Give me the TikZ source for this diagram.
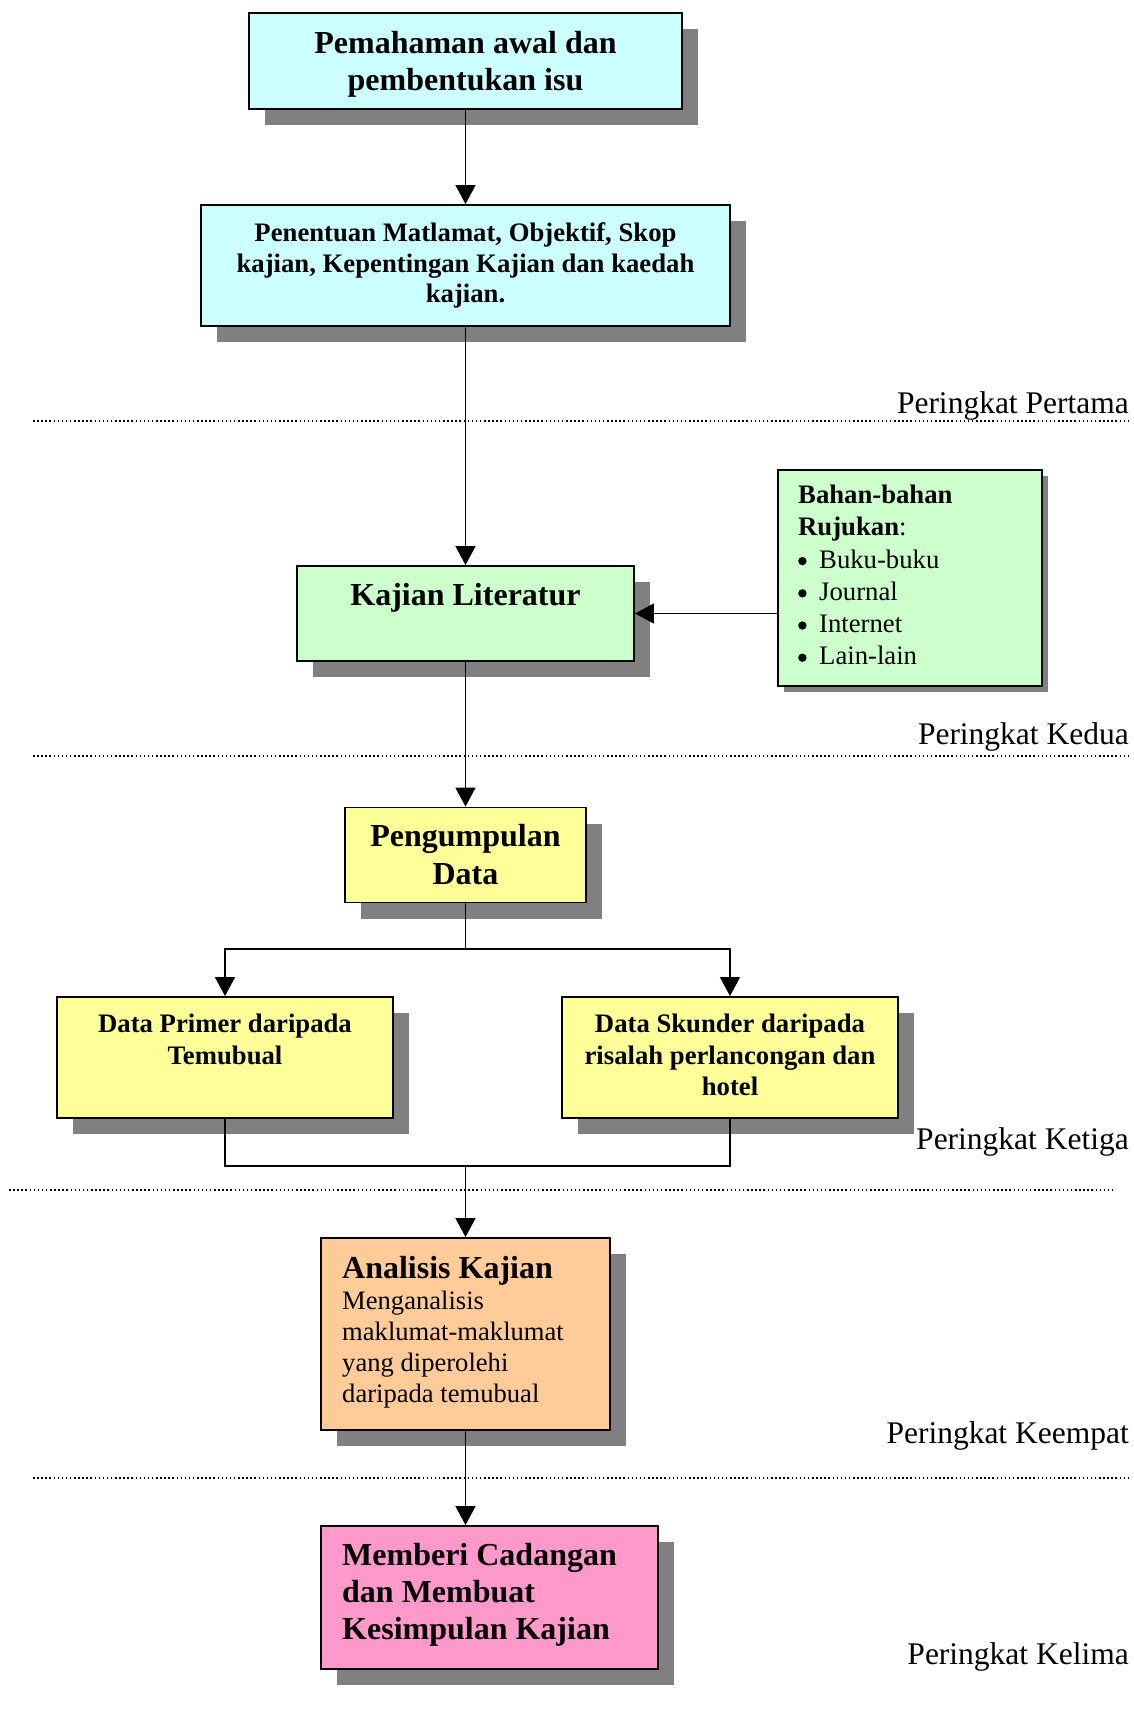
\documentclass[tikz,border=0pt]{standalone}
\usepackage{fontspec}
\setmainfont{Liberation Serif}
\usetikzlibrary{shadows,arrows.meta}

\definecolor{cyanbox}{HTML}{CCFFFF}
\definecolor{greenbox}{HTML}{CCFFCC}
\definecolor{yellowbox}{HTML}{FFFF99}
\definecolor{orangebox}{HTML}{FFCC99}
\definecolor{pinkbox}{HTML}{FF99CC}
\definecolor{shadowgray}{HTML}{808080}

\tikzset{
  stagebox/.style={draw=black, line width=1.9pt, rectangle, inner sep=0pt,
    drop shadow={shadow xshift=16pt, shadow yshift=-16pt, fill=shadowgray, opacity=1}},
  notebox/.style={draw=black, line width=1.9pt, rectangle, inner sep=0pt,
    drop shadow={shadow xshift=6pt, shadow yshift=-6pt, fill=shadowgray, opacity=1}},
  boxtext/.style={inner sep=0pt, font=\bfseries\fontsize{26.7}{31.5}\selectfont},
  flow/.style={line width=1.6pt, -{Triangle[length=19pt,width=20pt]}},
  plain/.style={line width=1.6pt},
  levelline/.style={line width=1.5pt, dash pattern=on 1.5pt off 2.6pt},
  levellabel/.style={anchor=east, inner sep=0pt, font=\fontsize{31.5}{36}\selectfont}
}
% list bullet: a filled dot centred on the x-height
\newcommand{\bigdot}{\makebox[21pt][l]{\tikz[baseline=0pt]\fill[black] (5pt,7pt) circle[radius=4.2pt];}}

\begin{document}
\begin{tikzpicture}[x=1pt,y=-1pt]
\useasboundingbox (0,0) rectangle (1134,1713);

% ---- stage 1 ----
\node[stagebox, fill=cyanbox, minimum width=433pt, minimum height=96pt] (isu) at (465.5,61) {};
\node[inner sep=0pt, align=center, font=\bfseries\fontsize{32}{37}\selectfont] (isutext) at (465.5,64)
  {Pemahaman awal dan\\pembentukan isu};
\node[stagebox, fill=cyanbox, minimum width=529pt, minimum height=121pt,
      align=center, font=\bfseries\fontsize{26.7}{30.5}\selectfont] (tujuan) at (465.5,265.5)
  {Penentuan Matlamat, Objektif, Skop\\kajian, Kepentingan Kajian dan kaedah\\kajian.};

% ---- stage 2 ----
\node[stagebox, fill=greenbox, minimum width=337pt, minimum height=95pt] (lit) at (465.5,613.5) {};
\node[inner sep=0pt, font=\bfseries\fontsize{32}{37}\selectfont] (littext) at (465.5,598) {Kajian Literatur};

\node[notebox, fill=greenbox, minimum width=264pt, minimum height=216pt] (bahan) at (910,578) {};
\node[inner sep=0pt, anchor=north west, align=left, font=\fontsize{26.7}{32.2}\selectfont] (bahantext) at (798,485)
  {\textbf{Bahan-bahan}\\
   \textbf{Rujukan}:\\
   \bigdot Buku-buku\\
   \bigdot Journal\\
   \bigdot Internet\\
   \bigdot Lain-lain};

% ---- stage 3 ----
\node[stagebox, fill=yellowbox, minimum width=241pt, minimum height=95pt,
      align=center, font=\bfseries\fontsize{32}{38}\selectfont] (kumpul) at (465.5,855)
  {Pengumpulan\\Data};

\node[stagebox, fill=yellowbox, minimum width=336pt, minimum height=121pt] (primer) at (225,1057.5) {};
\node[boxtext, align=center, anchor=north] (primertext) at (225,1014)
  {Data Primer daripada\\Temubual};
\node[stagebox, fill=yellowbox, minimum width=336pt, minimum height=121pt] (skunder) at (730,1057.5) {};
\node[boxtext, align=center, anchor=north] (skundertext) at (730,1014)
  {Data Skunder daripada\\risalah perlancongan dan\\hotel};

% ---- stage 4 ----
\node[stagebox, fill=orangebox, minimum width=289pt, minimum height=192pt] (analisis) at (465.5,1334) {};
\node[inner sep=0pt, anchor=north west, align=left, font=\fontsize{26.6}{31}\selectfont] (analisistext) at (342,1256)
  {{\bfseries\fontsize{32}{33}\selectfont Analisis Kajian}\\
   Menganalisis\\maklumat-maklumat\\yang diperolehi\\daripada temubual};

% ---- stage 5 ----
\node[stagebox, fill=pinkbox, minimum width=337pt, minimum height=143pt] (cadangan) at (489.5,1597.5) {};
\node[inner sep=0pt, anchor=north west, align=left, font=\bfseries\fontsize{32}{37}\selectfont] (cadangantext) at (342,1543)
  {Memberi Cadangan\\dan Membuat\\Kesimpulan Kajian};

% ---- connectors ----
\draw[flow] (isu.south) -- (tujuan.north);
\draw[flow] (tujuan.south) -- (lit.north);
\draw[flow] (bahan.west |- lit.east) -- (lit.east);
\draw[flow] (lit.south) -- (kumpul.north);

\coordinate (split) at (465.5,949);
\draw[plain] (kumpul.south) -- (split);
\draw[flow] (split) -| (primer.north);
\draw[flow] (split) -| (skunder.north);

\coordinate (join) at (465.5,1166);
\draw[plain] (primer.south) |- (join);
\draw[plain] (skunder.south) |- (join);
\draw[flow] (join) -- (analisis.north);
\draw[flow] (analisis.south) -- (analisis.south |- cadangan.north);

% ---- level dividers ----
\coordinate (d1a) at (33,421);   \coordinate (d1b) at (1131,421);
\coordinate (d2a) at (33,756);   \coordinate (d2b) at (1131,756);
\coordinate (d3a) at (9,1190);   \coordinate (d3b) at (1112,1190);
\coordinate (d4a) at (33,1478);  \coordinate (d4b) at (1131,1478);
\draw[levelline] (d1a) -- (d1b);
\draw[levelline] (d2a) -- (d2b);
\draw[levelline] (d3a) -- (d3b);
\draw[levelline] (d4a) -- (d4b);

\node[levellabel] (lv1) at (1129,406)  {Peringkat Pertama};
\node[levellabel] (lv2) at (1129,737)  {Peringkat Kedua};
\node[levellabel] (lv3) at (1129,1142) {Peringkat Ketiga};
\node[levellabel] (lv4) at (1129,1436) {Peringkat Keempat};
\node[levellabel] (lv5) at (1129,1657) {Peringkat Kelima};
\end{tikzpicture}
\end{document}
